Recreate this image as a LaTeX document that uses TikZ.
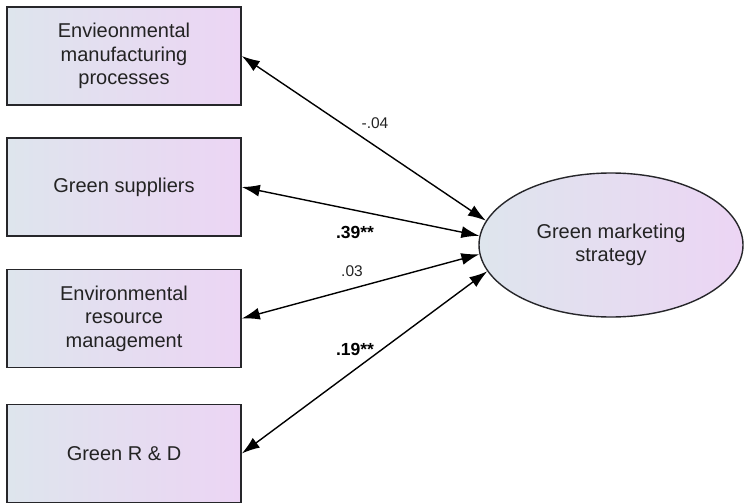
\documentclass[tikz,border=0pt]{standalone}
\usepackage{fontspec}
\setmainfont{Liberation Sans}
\usetikzlibrary{shapes.geometric,arrows.meta}
\definecolor{shadeleft}{RGB}{222,229,237}
\definecolor{shaderight}{RGB}{236,213,244}
\definecolor{edgegray}{RGB}{38,38,42}
\definecolor{inkgray}{RGB}{35,35,35}
\tikzset{
  factor/.style={draw=edgegray,line width=1.6pt,left color=shadeleft,right color=shaderight,
    minimum width=234pt,minimum height=98pt,inner sep=0pt,align=center,text=inkgray,
    font=\fontsize{20}{23.5}\selectfont},
  latent/.style={ellipse,draw=edgegray,line width=1.4pt,left color=shadeleft,right color=shaderight,
    minimum width=264pt,minimum height=144pt,inner sep=0pt,align=center,text=inkgray,
    font=\fontsize{20}{23.5}\selectfont},
  corr/.style={line width=1.4pt,{Latex[length=18pt,width=12pt]}-{Latex[length=18pt,width=12pt]}},
  coef/.style={text=inkgray,font=\fontsize{15.5}{17}\selectfont},
  sigcoef/.style={text=black,font=\fontsize{17.5}{19}\selectfont\bfseries}
}
\begin{document}
\begin{tikzpicture}[x=1pt,y=-1pt]
\useasboundingbox (0,0) rectangle (744,503);
\node[factor] (emp) at (124,56) {Envieonmental\\manufacturing\\processes};
\node[factor] (gsup) at (124,187) {Green suppliers};
\node[factor] (erm) at (124,318.5) {Environmental\\resource\\management};
\node[factor] (grd) at (124,453.5) {Green R \& D};
\node[latent] (gms) at (611,245) {Green marketing\\strategy};
\draw[corr] (emp.east) -- (gms.169);
\draw[corr] (gsup.east) -- (gms.176.5);
\draw[corr] (erm.east) -- (gms.184.8);
\draw[corr] (grd.east) -- (gms.192.2);
\node[coef] (c1) at (375,123) {-.04};
\node[sigcoef] (c2) at (355,232) {.39**};
\node[coef] (c3) at (352,271) {.03};
\node[sigcoef] (c4) at (355,349) {.19**};
\end{tikzpicture}
\end{document}
